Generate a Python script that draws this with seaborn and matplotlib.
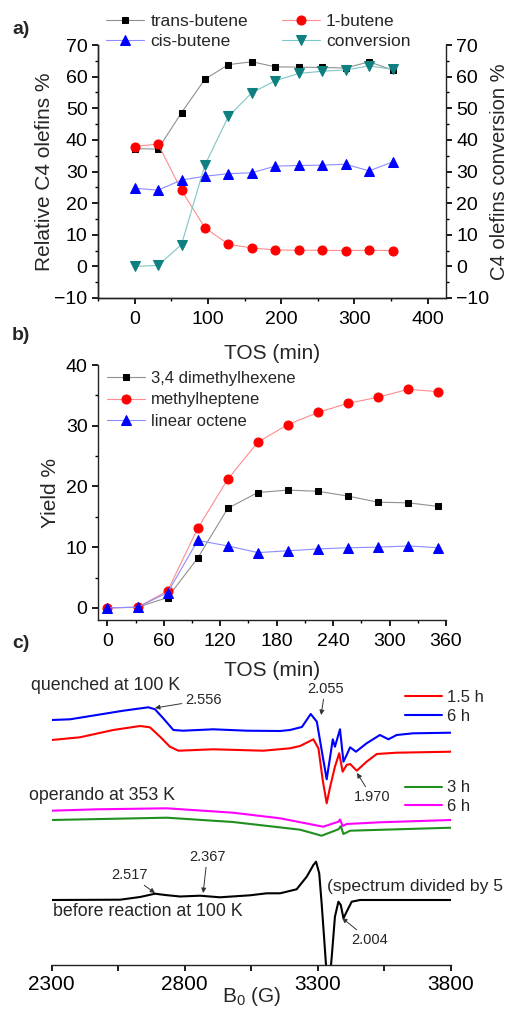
import numpy as np
import pandas as pd
import seaborn as sns
import matplotlib.pyplot as plt
from matplotlib.ticker import MultipleLocator

# a) C4 olefins vs time on stream
tos_a = [0, 32, 64, 96, 128, 160, 192, 224, 256, 288, 320, 352]
trans_butene = [37.2, 37.1, 48.6, 59.2, 63.8, 64.7, 63.1, 63.0, 62.9, 62.7, 64.7, 62.1]
one_butene = [37.9, 38.7, 24.0, 12.2, 7.0, 5.8, 5.2, 5.1, 5.1, 5.0, 5.1, 5.0]
cis_butene = [24.7, 24.1, 27.3, 28.5, 29.3, 29.6, 31.7, 31.9, 32.0, 32.3, 30.2, 33.0]
conversion = [0.0, 0.3, 6.9, 32.1, 47.4, 54.9, 58.7, 61.0, 61.7, 62.1, 63.4, 62.3]

# b) C8 yields
tos_b = [0, 32, 64, 96, 128, 160, 192, 224, 256, 288, 320, 352]
dimethylhexene = [0.0, 0.1, 1.7, 8.2, 16.4, 19.0, 19.4, 19.2, 18.4, 17.4, 17.3, 16.7]
methylheptene = [0.0, 0.1, 2.8, 13.1, 21.2, 27.3, 30.2, 32.2, 33.7, 34.7, 36.0, 35.6]
linear_octene = [0.0, 0.1, 2.5, 11.1, 10.2, 9.1, 9.4, 9.7, 9.9, 10.0, 10.2, 9.9]

# c) EPR spectra (field in G, intensity in arbitrary offset units)
b_q6 = [2300, 2369, 2469, 2569, 2663, 2688, 2719, 2757, 2794, 2907, 3033, 3158, 3195, 3240,
        3273, 3296, 3314, 3333, 3346, 3356, 3364, 3383, 3396, 3408, 3421, 3443, 3483, 3533,
        3565, 3596, 3658, 3800]
i_q6 = [245, 245.7, 250, 254.3, 257.7, 255.7, 246.7, 235, 234.3, 235.7, 234.3, 234, 235, 238,
        251, 243.3, 215, 185.7, 208.3, 225.7, 218.3, 235.7, 203.3, 210, 217.7, 213.3, 221.7, 230,
        225.7, 230, 231.7, 232.3]
b_q15 = [2300, 2406, 2531, 2632, 2669, 2707, 2744, 2776, 2907, 3095, 3195, 3233, 3283, 3302,
         3318, 3333, 3346, 3364, 3380, 3393, 3408, 3421, 3446, 3483, 3521, 3596, 3800]
i_q15 = [225, 227.7, 235, 239, 237.7, 228.3, 218.3, 214.3, 215.7, 214.3, 216.7, 219, 225.7, 216.7,
         185, 161.7, 178.3, 198.3, 211.7, 193.3, 200, 201, 194.3, 203.3, 211, 212.3, 213.3]
b_op6 = [2300, 2469, 2732, 2981, 3158, 3320, 3377, 3383, 3393, 3408, 3533, 3800]
i_op6 = [154.3, 155.7, 156.7, 152.3, 146.7, 138.3, 143.3, 145.5, 139, 141, 142.7, 145]
b_op3 = [2300, 2732, 2981, 3233, 3314, 3377, 3386, 3396, 3421, 3800]
i_op3 = [145, 147.3, 143, 135.3, 129.3, 135.7, 138.8, 131, 134.3, 137.3]
b_fresh = [2300, 2557, 2632, 2688, 2726, 2782, 2857, 2932, 3045, 3108, 3158, 3220, 3258, 3283,
           3293, 3305, 3314, 3323, 3330, 3333, 3346, 3352, 3364, 3377, 3386, 3396, 3408, 3427,
           3458, 3800]
i_fresh = [65, 65.3, 68, 71.3, 70, 68.5, 69.3, 67.7, 69.7, 71.7, 71.7, 75.7, 88.3, 100,
           103.3, 91.7, 61.7, 28.3, 1.7, -10, -10, 8.3, 48.3, 63.3, 60, 46.7, 53.3, 63.3,
           65, 65]
field_ticks = [2300, 2550, 2800, 3050, 3300, 3550, 3800]
field_labels = ['2300', '', '2800', '', '3300', '', '3800']

sns.set_theme(style='ticks')
plt.rcParams['font.family'] = ['Liberation Sans', 'DejaVu Sans']
plt.rcParams['mathtext.default'] = 'regular'
plt.rcParams['axes.linewidth'] = 1.0
plt.rcParams['xtick.major.size'] = 4
plt.rcParams['ytick.major.size'] = 4
plt.rcParams['xtick.minor.size'] = 2.5
plt.rcParams['ytick.minor.size'] = 2.5
plt.rcParams['xtick.color'] = 'black'
plt.rcParams['ytick.color'] = 'black'
plt.rcParams['axes.edgecolor'] = '#222222'

W, H = 509, 1010
fig = plt.figure(figsize=(W / 100, H / 100), dpi=100)


def px_box(x0, y0, x1, y1):
    return [x0 / W, 1 - y1 / H, (x1 - x0) / W, (y1 - y0) / H]


# ---------------- a)
ax = fig.add_axes(px_box(98, 45, 446, 298))
ax2 = ax.twinx()
sns.lineplot(x=tos_a, y=trans_butene, ax=ax, color='#909090', lw=0.8, marker='s', ms=5,
             markerfacecolor='black', markeredgecolor='black', legend=False)
sns.lineplot(x=tos_a, y=one_butene, ax=ax, color='#ff8c8c', lw=0.8, marker='o', ms=6.5,
             markerfacecolor='red', markeredgecolor='red', legend=False)
sns.lineplot(x=tos_a, y=cis_butene, ax=ax, color='#8c8cff', lw=0.8, marker='^', ms=6.5,
             markerfacecolor='blue', markeredgecolor='blue', legend=False)
sns.lineplot(x=tos_a, y=conversion, ax=ax2, color='#7fc6c6', lw=0.8, marker='v', ms=6.5,
             markerfacecolor='#0f8080', markeredgecolor='#0f8080', legend=False)
for a in (ax, ax2):
    a.set_ylim(-10, 70)
    a.yaxis.set_major_locator(MultipleLocator(10))
    a.yaxis.set_minor_locator(MultipleLocator(5))
    a.spines['top'].set_visible(False)
    a.tick_params(labelsize=14)
    a.patch.set_visible(False)
ax.tick_params(axis='x', pad=5)
ax.set_xlim(-50, 425)
ax.xaxis.set_major_locator(MultipleLocator(100))
ax.xaxis.set_minor_locator(MultipleLocator(50))
ax.spines['right'].set_visible(False)
ax.set_xlabel('TOS (min)', fontsize=15, labelpad=12)
ax.set_ylabel('Relative C4 olefins %', fontsize=15, labelpad=0)
ax2.set_ylabel('C4 olefins conversion %', fontsize=14.5, labelpad=0)
la = ax.lines + ax2.lines
fig.legend([la[0], la[2], la[1], la[3]],
           ['trans-butene', 'cis-butene', '1-butene', 'conversion'],
           ncol=2, loc='center left', bbox_to_anchor=(106 / W, 1 - 31.5 / H),
           frameon=False, fontsize=12.5, handlelength=2.2, handletextpad=0.35,
           columnspacing=1.95, labelspacing=0.25, borderpad=0, borderaxespad=0)

# ---------------- b)
bx = fig.add_axes(px_box(98, 365, 446, 620))
sns.lineplot(x=tos_b, y=dimethylhexene, ax=bx, color='#909090', lw=0.8, marker='s', ms=5,
             markerfacecolor='black', markeredgecolor='black', legend=False)
sns.lineplot(x=tos_b, y=methylheptene, ax=bx, color='#ff8c8c', lw=0.8, marker='o', ms=6.5,
             markerfacecolor='red', markeredgecolor='red', legend=False)
sns.lineplot(x=tos_b, y=linear_octene, ax=bx, color='#8c8cff', lw=0.8, marker='^', ms=6.5,
             markerfacecolor='blue', markeredgecolor='blue', legend=False)
bx.set_xlim(-10, 360)
bx.set_ylim(-2, 40)
bx.xaxis.set_major_locator(MultipleLocator(60))
bx.xaxis.set_minor_locator(MultipleLocator(30))
bx.yaxis.set_major_locator(MultipleLocator(10))
bx.yaxis.set_minor_locator(MultipleLocator(5))
bx.spines['top'].set_visible(False)
bx.spines['right'].set_visible(False)
bx.patch.set_visible(False)
bx.tick_params(labelsize=14)
bx.tick_params(axis='x', pad=5)
bx.set_xlabel('TOS (min)', fontsize=15, labelpad=8)
bx.set_ylabel('Yield %', fontsize=15, labelpad=4)
bx.legend(bx.lines, ['3,4 dimethylhexene', 'methylheptene', 'linear octene'],
          loc='center left', bbox_to_anchor=(107 / W, 1 - 400 / H), bbox_transform=fig.transFigure,
          frameon=False, fontsize=12, handlelength=2.3, handletextpad=0.35,
          labelspacing=0.4, borderpad=0, borderaxespad=0)

# ---------------- c)
cx = fig.add_axes(px_box(51.7, 665, 451, 965))
cx.patch.set_visible(False)
sns.lineplot(x=b_q15, y=i_q15, ax=cx, color='red', lw=1.5, estimator=None, legend=False)
sns.lineplot(x=b_q6, y=i_q6, ax=cx, color='blue', lw=1.5, estimator=None, legend=False)
sns.lineplot(x=b_op3, y=i_op3, ax=cx, color='#1f8f1f', lw=1.5, estimator=None, legend=False)
sns.lineplot(x=b_op6, y=i_op6, ax=cx, color='#ff00ff', lw=1.5, estimator=None, legend=False)
sns.lineplot(x=b_fresh, y=i_fresh, ax=cx, color='black', lw=1.5, estimator=None, legend=False)
cx.set_xlim(2300, 3800)
cx.set_ylim(0, 300)
cx.set_xticks(field_ticks)
cx.set_xticklabels(field_labels)
cx.set_yticks([])
for s in ('top', 'right', 'left'):
    cx.spines[s].set_visible(False)
cx.tick_params(labelsize=15, pad=3)
cx.set_xlabel('B$_0$ (G)', fontsize=15, labelpad=-6)

cl = cx.lines
leg1 = cx.legend([cl[0], cl[1]], ['1.5 h', '6 h'], loc='center left',
                 bbox_to_anchor=(405 / W, 1 - 707 / H), bbox_transform=fig.transFigure,
                 frameon=False, fontsize=12, handlelength=2.2, handletextpad=0.3,
                 labelspacing=0.2, borderpad=0, borderaxespad=0)
cx.add_artist(leg1)
cx.legend([cl[2], cl[3]], ['3 h', '6 h'], loc='center left',
          bbox_to_anchor=(405 / W, 1 - 797 / H), bbox_transform=fig.transFigure,
          frameon=False, fontsize=12, handlelength=2.2, handletextpad=0.3,
          labelspacing=0.2, borderpad=0, borderaxespad=0)

cx.text(2222, 279, 'quenched at 100 K', fontsize=12.8, va='center', ha='left')
cx.text(2215, 169, 'operando at 353 K', fontsize=12.8, va='center', ha='left')
cx.text(2305, 53, 'before reaction at 100 K', fontsize=12.8, va='center', ha='left')
cx.text(3335, 79, '(spectrum divided by 5', fontsize=12.6, va='center', ha='left')

arrow = dict(arrowstyle='-|>', color='#333333', lw=0.7, mutation_scale=7, shrinkA=0, shrinkB=0)
notes = [('2.556', (2688, 257), (2801, 265), 'left'),
         ('2.055', (3312, 250), (3327, 276), 'center'),
         ('1.970', (3447, 192), (3503, 168), 'center'),
         ('2.517', (2688, 72), (2594, 90), 'center'),
         ('2.367', (2869, 72), (2884, 108), 'center'),
         ('2.004', (3391, 47), (3493, 25), 'center')]
for txt, tip, pos, ha in notes:
    cx.annotate(txt, xy=tip, xytext=pos, fontsize=10.5, ha=ha, va='center',
                arrowprops=arrow)

fig.text(12 / W, 1 - 30 / H, 'a)', fontsize=14, fontweight='bold', va='center')
fig.text(12 / W, 1 - 335 / H, 'b)', fontsize=14, fontweight='bold', va='center')
fig.text(12 / W, 1 - 643 / H, 'c)', fontsize=14, fontweight='bold', va='center')

fig.savefig('out.png', dpi=100)
